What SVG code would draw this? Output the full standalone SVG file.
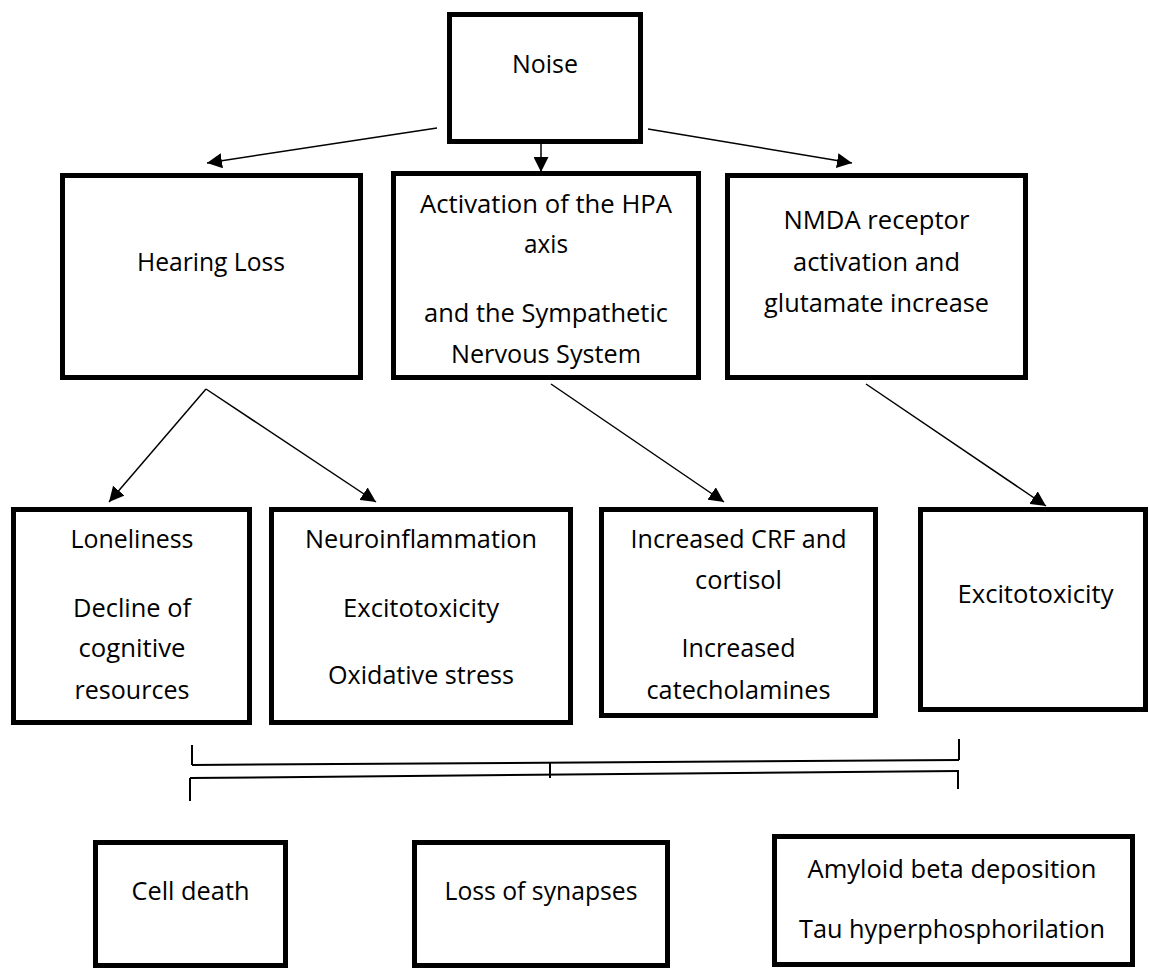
<svg xmlns="http://www.w3.org/2000/svg" width="1149" height="970" viewBox="0 0 1149 970">
  <defs>
    <style>
      .box { fill: #ffffff; stroke: #000000; stroke-width: 5; }
      .t { font-family: "Open Sans", "Liberation Sans", sans-serif; font-size: 26px; fill: #000000; text-anchor: middle; }
      .conn { stroke: #000000; stroke-width: 1.5; fill: none; }
      .br { stroke: #000000; stroke-width: 2; fill: none; }
    </style>
    <marker id="arrow" viewBox="0 0 10 10" refX="10" refY="5" markerWidth="15" markerHeight="15" markerUnits="userSpaceOnUse" orient="auto">
      <path d="M0,0 L10,5 L0,10 z" fill="#000000"/>
    </marker>
  </defs>
  <rect x="0" y="0" width="1149" height="970" fill="#ffffff"/>

  <g id="connectors">
    <line class="conn" x1="437" y1="128" x2="207" y2="163" marker-end="url(#arrow)"/>
    <line class="conn" x1="541" y1="144" x2="541" y2="172" marker-end="url(#arrow)"/>
    <line class="conn" x1="648" y1="129" x2="852" y2="163" marker-end="url(#arrow)"/>
    <line class="conn" x1="206" y1="389" x2="109" y2="502" marker-end="url(#arrow)"/>
    <line class="conn" x1="206" y1="389" x2="376" y2="502" marker-end="url(#arrow)"/>
    <line class="conn" x1="551" y1="384" x2="724" y2="502" marker-end="url(#arrow)"/>
    <line class="conn" x1="866" y1="384" x2="1046" y2="506" marker-end="url(#arrow)"/>
    <g id="bracket">
      <line class="br" x1="192" y1="745" x2="192" y2="765"/>
      <line class="br" x1="192" y1="765" x2="959" y2="760"/>
      <line class="br" x1="959" y1="739" x2="959" y2="760"/>
      <line class="br" x1="190" y1="778" x2="959" y2="771"/>
      <line class="br" x1="190" y1="778" x2="190" y2="801"/>
      <line class="br" x1="958" y1="771" x2="958" y2="789"/>
      <line class="br" x1="550" y1="763" x2="550" y2="778"/>
    </g>
  </g>

  <g id="node-noise">
    <rect class="box" x="449.5" y="14.5" width="191" height="127"/>
    <text class="t" x="545" y="73" textLength="66" lengthAdjust="spacingAndGlyphs">Noise</text>
  </g>

  <g id="node-hearing-loss">
    <rect class="box" x="62.5" y="175.5" width="298" height="202"/>
    <text class="t" x="211" y="271" textLength="148" lengthAdjust="spacingAndGlyphs">Hearing Loss</text>
  </g>

  <g id="node-hpa">
    <rect class="box" x="393.5" y="173.5" width="305" height="204"/>
    <text class="t" x="546" y="213" textLength="252" lengthAdjust="spacingAndGlyphs">Activation of the HPA</text>
    <text class="t" x="546" y="253" textLength="44" lengthAdjust="spacingAndGlyphs">axis</text>
    <text class="t" x="546" y="322" textLength="244" lengthAdjust="spacingAndGlyphs">and the Sympathetic</text>
    <text class="t" x="546" y="363" textLength="190" lengthAdjust="spacingAndGlyphs">Nervous System</text>
  </g>

  <g id="node-nmda">
    <rect class="box" x="727.5" y="175.5" width="298" height="202"/>
    <text class="t" x="876.5" y="229" textLength="186" lengthAdjust="spacingAndGlyphs">NMDA receptor</text>
    <text class="t" x="876.5" y="271" textLength="167" lengthAdjust="spacingAndGlyphs">activation and</text>
    <text class="t" x="876.5" y="312" textLength="225" lengthAdjust="spacingAndGlyphs">glutamate increase</text>
  </g>

  <g id="node-loneliness">
    <rect class="box" x="13.5" y="509.5" width="236" height="213"/>
    <text class="t" x="132" y="548" textLength="123" lengthAdjust="spacingAndGlyphs">Loneliness</text>
    <text class="t" x="132" y="617" textLength="118" lengthAdjust="spacingAndGlyphs">Decline of</text>
    <text class="t" x="132" y="657" textLength="107" lengthAdjust="spacingAndGlyphs">cognitive</text>
    <text class="t" x="132" y="699" textLength="115" lengthAdjust="spacingAndGlyphs">resources</text>
  </g>

  <g id="node-neuro">
    <rect class="box" x="271.5" y="509.5" width="299" height="213"/>
    <text class="t" x="421" y="548" textLength="232" lengthAdjust="spacingAndGlyphs">Neuroinflammation</text>
    <text class="t" x="421" y="617" textLength="156" lengthAdjust="spacingAndGlyphs">Excitotoxicity</text>
    <text class="t" x="421" y="684" textLength="186" lengthAdjust="spacingAndGlyphs">Oxidative stress</text>
  </g>

  <g id="node-crf">
    <rect class="box" x="601.5" y="509.5" width="274" height="206"/>
    <text class="t" x="738.5" y="548" textLength="216" lengthAdjust="spacingAndGlyphs">Increased CRF and</text>
    <text class="t" x="738.5" y="589" textLength="87" lengthAdjust="spacingAndGlyphs">cortisol</text>
    <text class="t" x="738.5" y="657" textLength="114" lengthAdjust="spacingAndGlyphs">Increased</text>
    <text class="t" x="738.5" y="699" textLength="184" lengthAdjust="spacingAndGlyphs">catecholamines</text>
  </g>

  <g id="node-excitotoxicity">
    <rect class="box" x="920.5" y="509.5" width="225" height="200"/>
    <text class="t" x="1035.5" y="603" textLength="156" lengthAdjust="spacingAndGlyphs">Excitotoxicity</text>
  </g>

  <g id="node-cell-death">
    <rect class="box" x="95.5" y="842.5" width="190" height="123"/>
    <text class="t" x="190.5" y="900" textLength="118" lengthAdjust="spacingAndGlyphs">Cell death</text>
  </g>

  <g id="node-synapses">
    <rect class="box" x="414.5" y="842.5" width="253" height="123"/>
    <text class="t" x="541" y="900" textLength="193" lengthAdjust="spacingAndGlyphs">Loss of synapses</text>
  </g>

  <g id="node-amyloid">
    <rect class="box" x="774.5" y="836.5" width="358" height="128"/>
    <text class="t" x="952" y="878" textLength="289" lengthAdjust="spacingAndGlyphs">Amyloid beta deposition</text>
    <text class="t" x="952" y="938" textLength="306" lengthAdjust="spacingAndGlyphs">Tau hyperphosphorilation</text>
  </g>
</svg>
